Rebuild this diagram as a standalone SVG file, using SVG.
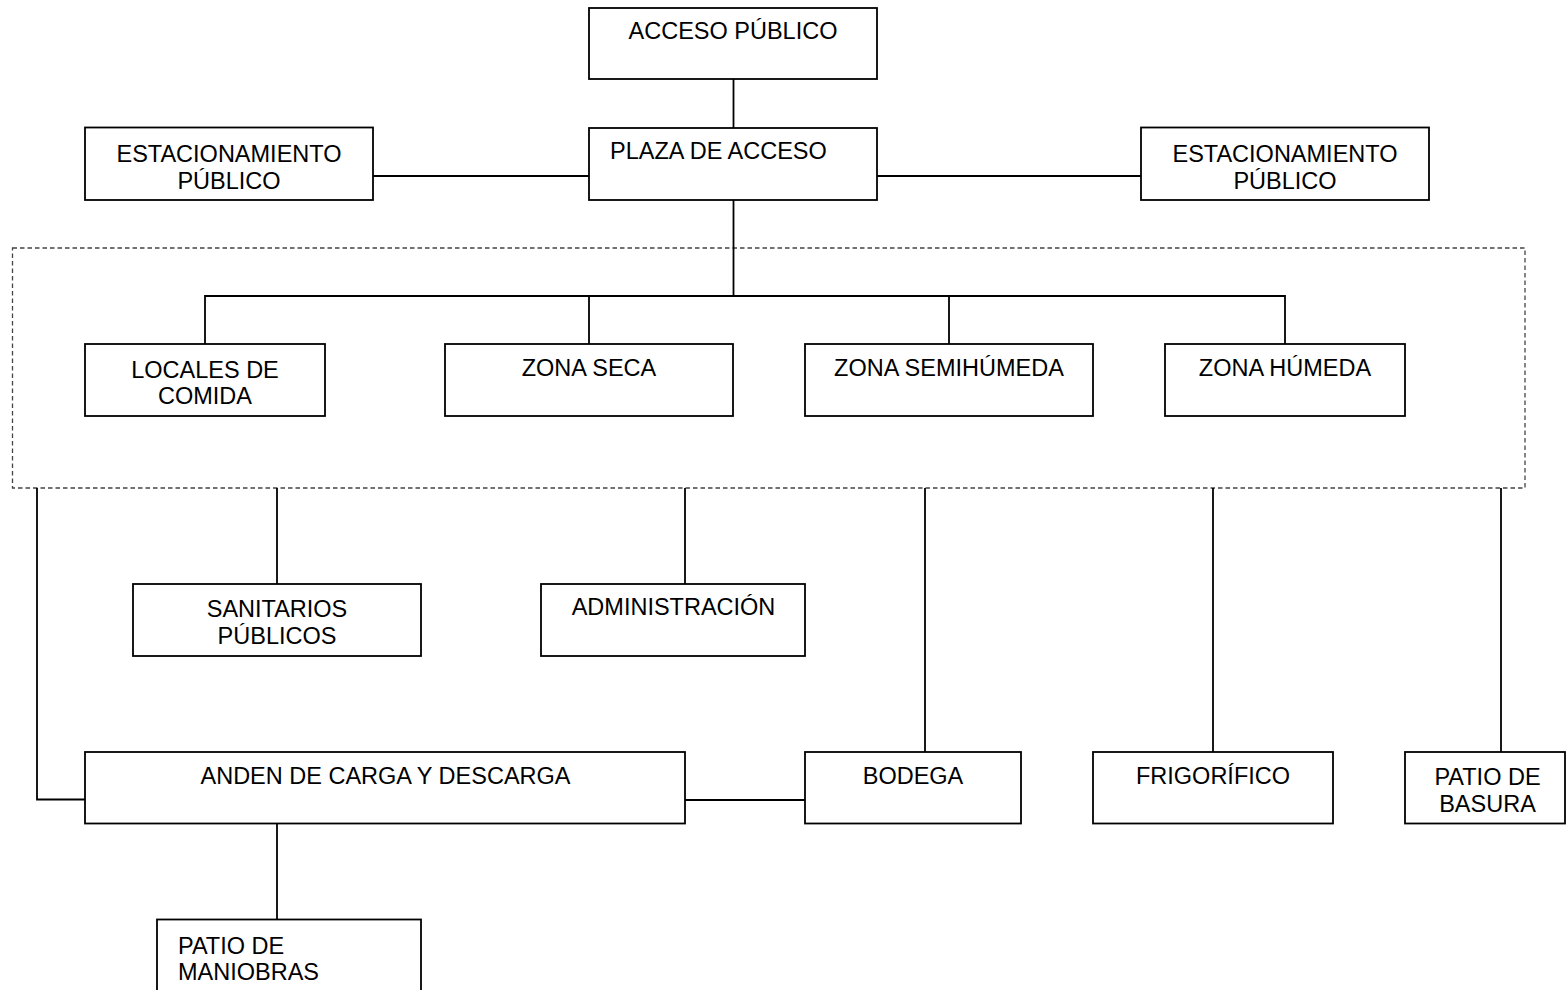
<svg xmlns="http://www.w3.org/2000/svg" width="1566" height="990" viewBox="0 0 1566 990">
<style>
.box{fill:#fff;stroke:#000;stroke-width:1.8}
.ln{fill:none;stroke:#000;stroke-width:1.8}
.dash{fill:none;stroke:#444;stroke-width:1.3;stroke-dasharray:4.5 3}
text{font-family:"Liberation Sans",Arial,sans-serif;font-size:23.5px;fill:#000}
.c{text-anchor:middle}
</style>
<rect width="1566" height="990" fill="#fff"/>
<rect class="dash" x="12.5" y="248" width="1512.5" height="240"/>
<g id="connectors">
<path class="ln" d="M733.5 79V128"/>
<path class="ln" d="M373 176H589M877 176H1141"/>
<path class="ln" d="M733.5 200V296M205 344V296H1285V344M589 296V344M949 296V344"/>
<path class="ln" d="M37 488V799.5H85"/>
<path class="ln" d="M277 488V584"/>
<path class="ln" d="M685 488V584"/>
<path class="ln" d="M925 488V752"/>
<path class="ln" d="M1213 488V752"/>
<path class="ln" d="M1501 488V752"/>
<path class="ln" d="M685 800H805"/>
<path class="ln" d="M277 823V919"/>
</g>
<g id="acceso-publico"><rect class="box" x="589" y="8" width="288" height="71"/><text class="c" x="733" y="39">ACCESO PÚBLICO</text></g>
<g id="plaza-acceso"><rect class="box" x="589" y="128" width="288" height="72"/><text x="610" y="159">PLAZA DE ACCESO</text></g>
<g id="estacionamiento-izq"><rect class="box" x="85" y="127.5" width="288" height="72.5"/><text class="c" x="229" y="161.5">ESTACIONAMIENTO</text><text class="c" x="229" y="188.5">PÚBLICO</text></g>
<g id="estacionamiento-der"><rect class="box" x="1141" y="127.5" width="288" height="72.5"/><text class="c" x="1285" y="161.5">ESTACIONAMIENTO</text><text class="c" x="1285" y="188.5">PÚBLICO</text></g>
<g id="locales-comida"><rect class="box" x="85" y="344" width="240" height="72"/><text class="c" x="205" y="377.5">LOCALES DE</text><text class="c" x="205" y="404">COMIDA</text></g>
<g id="zona-seca"><rect class="box" x="445" y="344" width="288" height="72"/><text class="c" x="589" y="375.5">ZONA SECA</text></g>
<g id="zona-semihumeda"><rect class="box" x="805" y="344" width="288" height="72"/><text class="c" x="949" y="375.5">ZONA SEMIHÚMEDA</text></g>
<g id="zona-humeda"><rect class="box" x="1165" y="344" width="240" height="72"/><text class="c" x="1285" y="375.5">ZONA HÚMEDA</text></g>
<g id="sanitarios"><rect class="box" x="133" y="584" width="288" height="72"/><text class="c" x="277" y="616.5">SANITARIOS</text><text class="c" x="277" y="643.5">PÚBLICOS</text></g>
<g id="administracion"><rect class="box" x="541" y="584" width="264" height="72"/><text class="c" x="673.5" y="615">ADMINISTRACIÓN</text></g>
<g id="anden"><rect class="box" x="85" y="752" width="600" height="71.5"/><text class="c" x="385.5" y="783.5">ANDEN DE CARGA Y DESCARGA</text></g>
<g id="bodega"><rect class="box" x="805" y="752" width="216" height="71.5"/><text class="c" x="913" y="783.5">BODEGA</text></g>
<g id="frigorifico"><rect class="box" x="1093" y="752" width="240" height="71.5"/><text class="c" x="1213" y="783.5">FRIGORÍFICO</text></g>
<g id="patio-basura"><rect class="box" x="1405" y="752" width="160" height="71.5"/><text class="c" x="1487.5" y="785">PATIO DE</text><text class="c" x="1487.5" y="811.5">BASURA</text></g>
<g id="patio-maniobras"><rect class="box" x="157" y="919.5" width="264" height="72"/><text x="178" y="953.5">PATIO DE</text><text x="178" y="979.5">MANIOBRAS</text></g>
</svg>
